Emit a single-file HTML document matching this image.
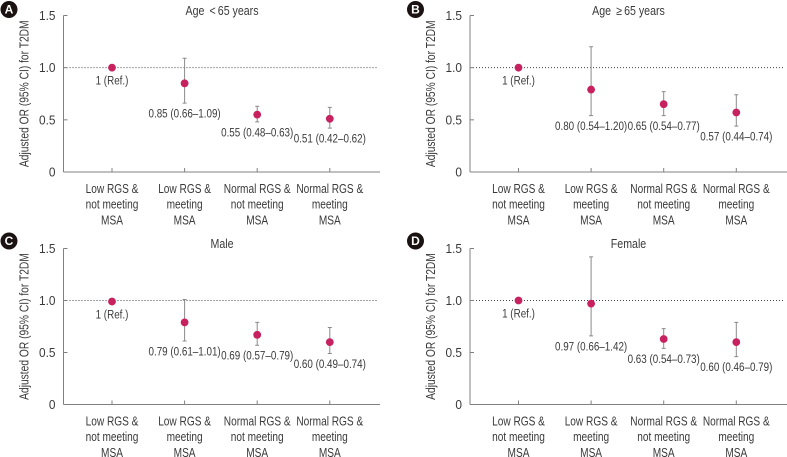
<!DOCTYPE html>
<html>
<head>
<meta charset="utf-8">
<style>
html,body{margin:0;padding:0;background:#fff;width:787px;height:457px;overflow:hidden}
svg{display:block}
text{font-family:"Liberation Sans",sans-serif;fill:#3a3a3a}
</style>
</head>
<body>
<svg id="chart" width="787" height="457" viewBox="0 0 787 457" xmlns="http://www.w3.org/2000/svg"></svg>
<script>
const categories = [
  ["Low RGS &", "not meeting", "MSA"],
  ["Low RGS &", "meeting", "MSA"],
  ["Normal RGS &", "not meeting", "MSA"],
  ["Normal RGS &", "meeting", "MSA"]
];
const yTickValues = [0, 0.5, 1, 1.5];
const yTickLabels = ["0", "0.5", "1.0", "1.5"];
const yTitle = "Adjusted OR (95% CI) for T2DM";
const referenceValue = 1;

const titleA = "Age \u2009<\u200965 years";
const pointsA = [1, 0.85, 0.55, 0.51];
const lowA = [null, 0.66, 0.48, 0.42];
const highA = [null, 1.09, 0.63, 0.62];
const labelsA = ["1 (Ref.)", "0.85 (0.66\u20131.09)", "0.55 (0.48\u20130.63)", "0.51 (0.42\u20130.62)"];

const titleB = "Age \u2009\u2265\u200965 years";
const pointsB = [1, 0.79, 0.65, 0.57];
const lowB = [null, 0.54, 0.54, 0.44];
const highB = [null, 1.20, 0.77, 0.74];
const labelsB = ["1 (Ref.)", "0.80 (0.54\u20131.20)", "0.65 (0.54\u20130.77)", "0.57 (0.44\u20130.74)"];

const titleC = "Male";
const pointsC = [0.99, 0.79, 0.67, 0.60];
const lowC = [null, 0.61, 0.57, 0.49];
const highC = [null, 1.01, 0.79, 0.74];
const labelsC = ["1 (Ref.)", "0.79 (0.61\u20131.01)", "0.69 (0.57\u20130.79)", "0.60 (0.49\u20130.74)"];

const titleD = "Female";
const pointsD = [1, 0.97, 0.63, 0.60];
const lowD = [null, 0.66, 0.54, 0.46];
const highD = [null, 1.42, 0.73, 0.79];
const labelsD = ["1 (Ref.)", "0.97 (0.66\u20131.42)", "0.63 (0.54\u20130.73)", "0.60 (0.46\u20130.79)"];

const svg = document.getElementById('chart');
const NS = 'http://www.w3.org/2000/svg';

function make(parent, tag, attrs) {
  const el = document.createElementNS(NS, tag);
  for (const k in attrs) el.setAttribute(k, attrs[k]);
  parent.appendChild(el);
  return el;
}

function label(parent, str, x, y, size, anchor, squeeze, rotate) {
  const t = make(parent, 'text', {
    transform: 'translate(' + x + ' ' + y + ')' + (rotate ? ' rotate(-90)' : '') + ' scale(' + squeeze + ' 1)',
    'font-size': size,
    'text-anchor': anchor
  });
  t.textContent = str;
  return t;
}

function drawPanel(key, letter, title, points, low, high, labels, box) {
  const g = make(svg, 'g', {});
  
  

  const yScale = function (v) { return box.bottom - (v / 1.5) * (box.bottom - box.top); };
  const xScale = function (i) { return box.left + 48.5 + i * 72.6; };

  const badge = make(g, 'circle', { cx: box.left - 54.5, cy: box.badgeY, r: 8.5, fill: '#1a1311' });
  
  
  const badgeText = label(g, letter, box.left - 54.5, box.badgeY + 4.2, 12, 'middle', 1);
  badgeText.setAttribute('font-weight', 'bold');
  badgeText.style.fill = '#fff';
  
  

  const titleEl = label(g, title, box.left + 158.5, box.top - 0.5, 12.5, 'middle', 0.85);
  
  

  const yTitleEl = label(g, yTitle, box.left - 35, (box.top + box.bottom) / 2, 12.5, 'middle', 0.82, true);
  
  

  const refLine = make(g, 'line', {
    x1: box.left, x2: box.right - 3, y1: yScale(referenceValue), y2: yScale(referenceValue),
    stroke: '#444', 'stroke-width': 1, 'stroke-dasharray': '1 2'
  });
  
  

  const yAxis = make(g, 'line', {
    x1: box.left, x2: box.left, y1: box.top, y2: box.bottom, stroke: '#808080', 'stroke-width': 1
  });
  
  

  const xAxis = make(g, 'line', {
    x1: box.left, x2: box.right, y1: box.bottom, y2: box.bottom, stroke: '#808080', 'stroke-width': 1
  });
  
  

  yTickValues.forEach(function (v, i) {
    const y = yScale(v);
    const tick = make(g, 'line', { x1: box.left, x2: box.left + 4, y1: y, y2: y, stroke: '#808080', 'stroke-width': 1 });
    
    
    const tickLabel = label(g, yTickLabels[i], box.left - 8, y + 4.5, 12.5, 'end', 0.95);
    
    
  });

  categories.forEach(function (lines, i) {
    const x = xScale(i);
    const tick = make(g, 'line', { x1: x, x2: x, y1: box.bottom - 4, y2: box.bottom, stroke: '#808080', 'stroke-width': 1 });
    
    
    lines.forEach(function (line, j) {
      const catLabel = label(g, line, x, box.bottom + 21 + j * 15.7, 12.5, 'middle', 0.81);
      
      
    });
  });

  points.forEach(function (v, i) {
    const x = xScale(i);
    if (low[i] !== null) {
      const yl = yScale(low[i]);
      const yh = yScale(high[i]);
      const whisker = make(g, 'path', {
        d: 'M' + (x - 2) + ' ' + yh + 'H' + (x + 2) + 'M' + x + ' ' + yh + 'V' + yl + 'M' + (x - 2) + ' ' + yl + 'H' + (x + 2),
        stroke: '#8a8a8a', 'stroke-width': 1, fill: 'none'
      });
      
      
    }
    const dot = make(g, 'circle', { cx: x, cy: yScale(v), r: 3.9, fill: '#c8215f' });
    
    
    const anchorY = low[i] !== null ? yScale(low[i]) + 14.5 : yScale(v) + 17;
    const valueLabel = label(g, labels[i], x, anchorY, 12, 'middle', 0.82);
    
    
  });
}

drawPanel('a', 'A', titleA, pointsA, lowA, highA, labelsA, { left: 63.5, right: 380, top: 15.5, bottom: 172, badgeY: 9.5 });
drawPanel('b', 'B', titleB, pointsB, lowB, highB, labelsB, { left: 470, right: 787, top: 15.5, bottom: 172, badgeY: 9.5 });
drawPanel('c', 'C', titleC, pointsC, lowC, highC, labelsC, { left: 63.5, right: 380, top: 248.5, bottom: 404.5, badgeY: 241 });
drawPanel('d', 'D', titleD, pointsD, lowD, highD, labelsD, { left: 470, right: 787, top: 248.5, bottom: 404.5, badgeY: 241 });
</script>
</body>
</html>
